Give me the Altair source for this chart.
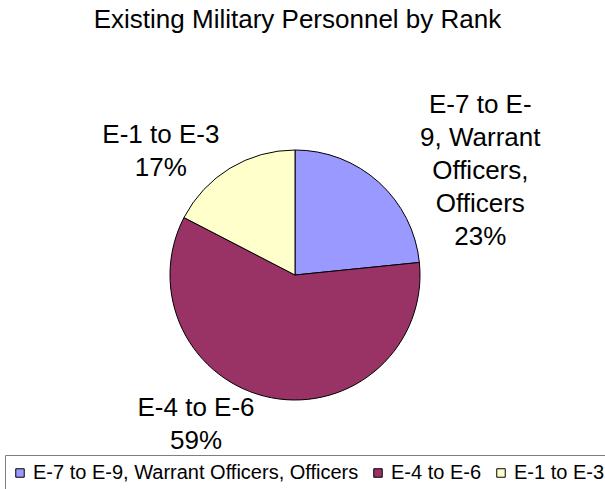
import altair as alt
import pandas as pd

# ---- data ----
categories = ["E-7 to E-9, Warrant Officers, Officers", "E-4 to E-6", "E-1 to E-3"]
shares = [23.4, 59.2, 17.4]
label_lines = ["E-7 to E-\n9, Warrant\nOfficers,\nOfficers", "E-4 to E-6", "E-1 to E-3"]
colors = ["#9999FF", "#993366", "#FFFFCC"]
slice_order = [0, 1, 2]

df = pd.DataFrame({
    "category": categories,
    "value": shares,
    "label": label_lines,
    "order": slice_order,
})

FONT = "Liberation Sans"
TOP = 45
W, H = 605, 489 - TOP
CX, CY, R = 295, 275 - TOP, 125
LABEL_R = 160
total = sum(shares)

theta_scale = alt.Scale(domain=[0, total])

color = alt.Color(
    "category:N",
    scale=alt.Scale(domain=categories, range=colors),
    legend=alt.Legend(
        orient="none", direction="horizontal", title=None,
        legendX=5, legendY=455 - TOP,
        symbolType="square", symbolSize=72,
        symbolStrokeColor="black", symbolStrokeWidth=1, symbolOpacity=1,
        symbolOffset=-3,
        labelFont=FONT, labelFontSize=20, labelColor="black",
        labelOffset=3, columnPadding=12, labelLimit=700,
        padding=8, strokeColor="#7f7f7f", fillColor="white",
    ),
)

pie = alt.Chart(df).mark_arc(outerRadius=R, stroke="black", strokeWidth=1).encode(
    theta=alt.Theta("value:Q", stack=True, scale=theta_scale),
    order=alt.Order("order:Q"),
    color=color,
    x=alt.value(CX),
    y=alt.value(CY),
)

label_base = (
    alt.Chart(df)
    .transform_stack(stack="value", groupby=[], as_=["v0", "v1"],
                     sort=[alt.SortField("order")])
    .transform_joinaggregate(total="sum(value)")
    .transform_calculate(
        mid="(datum.v0 + datum.v1) / 2",
        txt="datum.label + '\\n' + format(datum.value / datum.total, '.0%')",
    )
)

offsets = {
    categories[0]: (78, -51),
    categories[1]: (-69, -24),
    categories[2]: (-51, -3),
}

label_layers = []
for cat in categories:
    dx, dy = offsets[cat]
    label_layers.append(
        label_base.transform_filter(alt.datum.category == cat)
        .mark_text(radius=LABEL_R, dx=dx, dy=dy, font=FONT, fontSize=26,
                   lineHeight=33, lineBreak="\n", align="center",
                   baseline="middle", color="black")
        .encode(
            theta=alt.Theta("mid:Q", scale=theta_scale),
            text="txt:N",
            x=alt.value(CX),
            y=alt.value(CY),
        )
    )

chart = alt.layer(pie, *label_layers).properties(
    width=W, height=H,
    title=alt.TitleParams(
        "Existing Military Personnel by Rank",
        font=FONT, fontSize=26, fontWeight="normal", color="black",
        anchor="middle", offset=12, dx=-5,
    ),
    autosize=alt.AutoSizeParams(type="none"),
    padding={"left": 0, "top": TOP, "right": 0, "bottom": 0},
    background="white",
).configure_view(stroke=None)

chart.save("out.html", embed_options={"renderer": "svg", "actions": False})
